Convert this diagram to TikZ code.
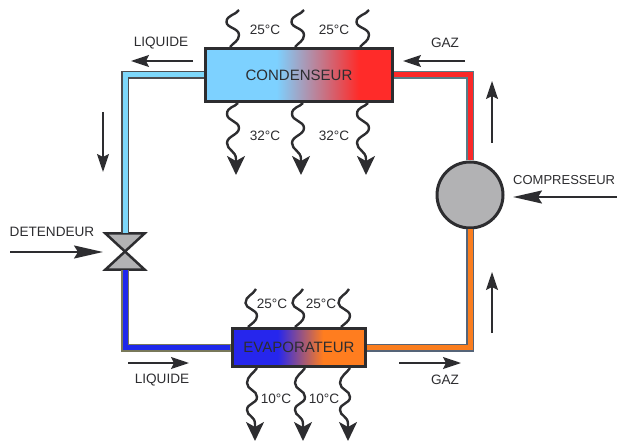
\documentclass[tikz,border=0pt]{standalone}
\usepackage{fontspec}
\setmainfont{Liberation Sans}
\usetikzlibrary{arrows.meta}
\pgfdeclarehorizontalshading{condgrad}{100bp}{rgb(0bp)=(.49,.82,1); rgb(25bp)=(.49,.82,1); rgb(44bp)=(.49,.82,1); rgb(66bp)=(1,.17,.16); rgb(75bp)=(1,.17,.16); rgb(100bp)=(1,.17,.16)}
\pgfdeclarehorizontalshading{evapgrad}{100bp}{rgb(0bp)=(.15,.15,.93); rgb(25bp)=(.15,.15,.93); rgb(42bp)=(.15,.15,.93); rgb(59bp)=(1,.49,.12); rgb(75bp)=(1,.49,.12); rgb(100bp)=(1,.49,.12)}
\definecolor{ink}{RGB}{45,45,48}
\definecolor{unitgray}{RGB}{178,178,180}
\definecolor{pipelight}{RGB}{125,215,250}
\definecolor{pipered}{RGB}{250,40,40}
\definecolor{pipeblue}{RGB}{30,40,235}
\definecolor{pipeorange}{RGB}{250,125,30}
\tikzset{
  unitbox/.style={draw=ink,line width=3pt,inner sep=0pt,font=\fontsize{15}{16}\selectfont,text=ink},
  lab/.style={font=\fontsize{13.6}{15}\selectfont,text=ink,inner sep=0pt},
  flow/.style={draw=ink,line width=1.8pt,-{Stealth[length=18pt,width=12pt,inset=3pt]}},
  longflow/.style={draw=ink,line width=2pt,-{Stealth[length=29pt,width=13pt,inset=4pt]}},
  pipeout/.style={line width=8pt,line join=miter},
  pipein/.style={line width=5pt,line join=miter},
  wavy/.style={draw=ink,line width=2.4pt},
  waveinl/.pic={\draw[wavy] (6,-37) .. controls (3,-32) and (-6.5,-32) .. (-6.5,-25) .. controls (-6.5,-19) and (6,-19) .. (6,-12) .. controls (6,-6) and (0,-4) .. (-3,0);},
  waveoutl/.pic={\draw[wavy,-{Stealth[length=19pt,width=18pt,inset=5pt]}] (5,0) .. controls (2,4) and (-6,4) .. (-6,11) .. controls (-6,18) and (6,18) .. (6,25) .. controls (6,32) and (-6,33) .. (-6,40) .. controls (-6,47) and (3,48) .. (3,56) -- (3,72);},
  waveins/.pic={\draw[wavy] (5,-38) .. controls (2,-32) and (-5.5,-31) .. (-5.5,-24) .. controls (-5.5,-18) and (6,-18) .. (6,-11) .. controls (6,-6) and (0,-3) .. (-3,0);},
  waveouts/.pic={\draw[wavy,-{Stealth[length=19pt,width=18pt,inset=5pt]}] (5,0) .. controls (2,5) and (-5,8) .. (-5,15) .. controls (-5,22) and (5,22) .. (5,29) .. controls (5,36) and (-5,35) .. (-5,42) .. controls (-5,48) and (3,48) .. (3,56) -- (3,73);}
}
\begin{document}
\begin{tikzpicture}[x=1pt,y=-1pt]
\useasboundingbox (0,0) rectangle (617,443);
% units
\node[unitbox,shading=condgrad,minimum width=187pt,minimum height=53pt] (cond) at (299,75) {CONDENSEUR};
\node[unitbox,shading=evapgrad,minimum width=133pt,minimum height=38pt] (evap) at (299,347.5) {EVAPORATEUR};
\node[circle,draw=ink,line width=3pt,fill=unitgray,minimum size=66pt,inner sep=0pt] (comp) at (470,195) {};
\node[minimum width=39pt,minimum height=36pt,inner sep=0pt,outer sep=0pt] (valve) at (125,251.5) {};
% valve
\draw[ink,fill=unitgray,line width=2.5pt,line join=miter] (valve.north west) -- (valve.north east) -- (valve.center) -- cycle;
\draw[ink,fill=unitgray,line width=2.5pt,line join=miter] (valve.south west) -- (valve.south east) -- (valve.center) -- cycle;
% pipes
\draw[pipeout,draw=ink!85] (cond.west) -| (valve.north);
\draw[pipein,draw=pipelight] (cond.west) -| (valve.north);
\draw[pipeout,draw={rgb,255:red,85;green,125;blue,135}] (cond.east) -| (comp.north);
\draw[pipein,draw=pipered,xshift=1pt] (cond.east) -| (comp.north);
\draw[pipeout,draw={rgb,255:red,120;green,120;blue,90}] (evap.west) -| (valve.south);
\draw[pipein,draw=pipeblue,xshift=1pt,yshift=1pt,shorten <=1pt] (evap.west) -| (valve.south);
\draw[pipeout,draw={rgb,255:red,85;green,100;blue,120}] (evap.east) -| (comp.south);
\draw[pipein,draw=pipeorange,xshift=1pt] (evap.east) -| (comp.south);
% heat waves
\foreach \x in {233,298,363} {
  \pic at (\x,47) {waveinl};
  \pic at (\x,103) {waveoutl};
}
\foreach \x in {251,298,344} \pic at (\x,327) {waveins};
\foreach \x in {252,300,345} \pic at (\x,368) {waveouts};
% flow arrows
\coordinate (a1s) at (193,61);  \coordinate (a1e) at (131,61);
\coordinate (a2s) at (465,61);  \coordinate (a2e) at (403,61);
\coordinate (a3s) at (103,112); \coordinate (a3e) at (103,172);
\coordinate (a4s) at (492,143); \coordinate (a4e) at (492,81);
\coordinate (a5s) at (492,333); \coordinate (a5e) at (492,272);
\coordinate (a6s) at (128,363); \coordinate (a6e) at (189,363);
\coordinate (a7s) at (399,363); \coordinate (a7e) at (461,363);
\coordinate (a8s) at (10,252);  \coordinate (a8e) at (103,252);
\coordinate (a9s) at (617,197); \coordinate (a9e) at (513,197);
\foreach \n in {1,...,7} \draw[flow] (a\n s) -- (a\n e);
\draw[longflow] (a8s) -- (a8e);
\draw[longflow] (a9s) -- (a9e);
% labels
\node[lab] (l1) at (161,43) {LIQUIDE};
\node[lab] (l2) at (445,43) {GAZ};
\node[lab] (l3) at (162,380) {LIQUIDE};
\node[lab] (l4) at (445,380) {GAZ};
\node[lab] (l5) at (52,232) {DETENDEUR};
\node[lab,anchor=west,font=\fontsize{13}{15}\selectfont] (l6) at (513,180) {COMPRESSEUR};
\node[lab] (t1) at (265,30) {25°C};
\node[lab] (t2) at (334,30) {25°C};
\node[lab] (t3) at (265,136) {32°C};
\node[lab] (t4) at (334,136) {32°C};
\node[lab] (t5) at (272,304) {25°C};
\node[lab] (t6) at (321,304) {25°C};
\node[lab] (t7) at (276,399) {10°C};
\node[lab] (t8) at (324,399) {10°C};
\end{tikzpicture}
\end{document}
